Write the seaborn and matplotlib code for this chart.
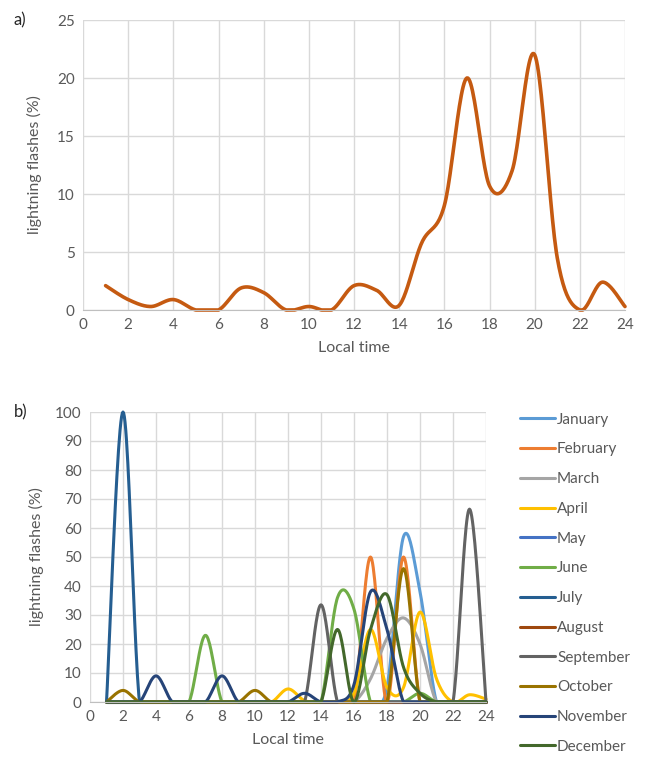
import numpy as np
import pandas as pd
import matplotlib
matplotlib.use("Agg")
import matplotlib.pyplot as plt
import seaborn as sns

# hours of the day (local time)
hours = list(range(1, 25))

# a) all months together (%)
total_flashes = [2.1, 0.9, 0.3, 0.9, 0, 0, 1.9, 1.5, 0, 0.3, 0, 2.1,
                 1.7, 0.4, 5.8, 9.0, 20.0, 10.7, 12.0, 22.0, 4.5, 0, 2.4, 0.3]

# b) monthly diurnal distribution (%), hours 1..24
months = ["January", "February", "March", "April", "May", "June", "July",
          "August", "September", "October", "November", "December"]
jan = [0, 0, 0, 0, 0, 0, 0, 0, 0, 0, 0, 0, 0, 0, 0, 0, 0, 5, 57, 38, 0, 0, 0, 0]
feb = [0, 0, 0, 0, 0, 0, 0, 0, 0, 0, 0, 0, 0, 0, 0, 0, 50, 0, 50, 0, 0, 0, 0, 0]
mar = [0, 0, 0, 0, 0, 0, 0, 0, 0, 0, 0, 0, 0, 0, 0, 0, 8, 22, 29, 20, 0, 0, 0, 0]
apr = [0, 0, 0, 0, 0, 0, 0, 0, 0, 0, 0, 4.5, 0.5, 0, 0, 3, 25, 5, 5, 31, 8, 0, 2.5, 1]
may = [0] * 24
jun = [0, 0, 0, 0, 0, 0, 23, 0, 0, 0, 0, 0, 0, 0, 36, 32, 0, 0, 0, 3, 0, 0, 0, 0]
jul = [0, 100, 0, 0, 0, 0, 0, 0, 0, 0, 0, 0, 0, 0, 0, 0, 0, 0, 0, 0, 0, 0, 0, 0]
aug = [0] * 24
sep = [0, 0, 0, 0, 0, 0, 0, 0, 0, 0, 0, 0, 0, 33.5, 0, 0, 0, 0, 0, 0, 0, 0, 66.5, 0]
oct_ = [0, 4, 0, 0, 0, 0, 0, 0, 0, 4, 0, 0, 0, 0, 0, 0, 0, 0, 46, 0, 0, 0, 0, 0]
nov = [0, 0, 0, 9, 0, 0, 0, 9, 0, 0, 0, 0, 3, 0, 0, 6, 38, 25, 0, 0, 0, 0, 0, 0]
dec = [0, 0, 0, 0, 0, 0, 0, 0, 0, 0, 0, 0, 0, 0, 25, 0, 25, 37, 12, 3, 0, 0, 0, 0]
monthly = [jan, feb, mar, apr, may, jun, jul, aug, sep, oct_, nov, dec]

month_colors = ["#5B9BD5", "#ED7D31", "#A5A5A5", "#FFC000", "#4472C4", "#70AD47",
                "#255E91", "#9E480E", "#636363", "#997300", "#264478", "#43682B"]


# Excel-style smoothed line: cubic Bezier through the points (rendering only)
def smooth(x, y, steps=24):
    x = np.asarray(x, float)
    y = np.asarray(y, float)
    n = len(x)
    xs, ys = [], []
    t = np.linspace(0, 1, steps, endpoint=False)
    for i in range(n - 1):
        i0 = max(i - 1, 0)
        i3 = min(i + 2, n - 1)
        for arr, out in ((x, xs), (y, ys)):
            p0, p1, p2, p3 = arr[i0], arr[i], arr[i + 1], arr[i3]
            c1 = p1 + (p2 - p0) / 6
            c2 = p2 - (p3 - p1) / 6
            out.append((1 - t) ** 3 * p1 + 3 * (1 - t) ** 2 * t * c1
                       + 3 * (1 - t) * t ** 2 * c2 + t ** 3 * p2)
    xs.append([x[-1]])
    ys.append([y[-1]])
    return np.concatenate(xs), np.maximum(np.concatenate(ys), 0)


sns.set_style("white")
plt.rcParams["font.family"] = ["Lato", "DejaVu Sans"]

grid_col = "#D9D9D9"
tick_col = "#595959"

fig = plt.figure(figsize=(6.47, 7.57), dpi=100)
ax_a = fig.add_axes([83 / 647, 1 - 310 / 757, 542 / 647, 290 / 757])
ax_b = fig.add_axes([90 / 647, 1 - 702 / 757, 396 / 647, 290 / 757])


def style_axis(ax, ymax, ystep):
    ax.set_xlim(0, 24)
    ax.set_ylim(0, ymax)
    ax.set_xticks(range(0, 25, 2))
    ax.set_yticks(range(0, ymax + 1, ystep))
    ax.grid(True, color=grid_col, linewidth=1.0)
    ax.set_axisbelow(True)
    for side in ["top", "right", "left"]:
        ax.spines[side].set_visible(False)
    ax.spines["bottom"].set_color("#BFBFBF")
    ax.tick_params(length=0, labelsize=11, colors=tick_col, pad=6)
    ax.set_xlabel("Local time", fontsize=11.5, color=tick_col, labelpad=6)
    ax.set_ylabel("lightning flashes (%)", fontsize=11.5, color=tick_col)


# panel a
sx, sy = smooth(hours, total_flashes)
sns.lineplot(x=sx, y=sy, ax=ax_a, color="#C55A11", linewidth=2.6,
             sort=False, estimator=None, clip_on=False)
style_axis(ax_a, 25, 5)
ax_a.yaxis.set_label_coords(-0.075, 0.5)

# panel b
frames = []
for name, vals in zip(months, monthly):
    mx, my = smooth(hours, vals)
    frames.append(pd.DataFrame({"hour": mx, "pct": my, "month": name}))
df = pd.concat(frames, ignore_index=True)

sns.lineplot(data=df, x="hour", y="pct", hue="month", hue_order=months,
             palette=dict(zip(months, month_colors)), linewidth=2.2,
             sort=False, estimator=None, ax=ax_b, clip_on=False)
style_axis(ax_b, 100, 10)
ax_b.yaxis.set_label_coords(-0.115, 0.5)

sns.move_legend(ax_b, "upper left", bbox_to_anchor=(1.05, 1.045), title=None,
                frameon=False, fontsize=11, labelspacing=1.03,
                handlelength=2.3, handletextpad=0.15, labelcolor=tick_col)

fig.text(14 / 647, 1 - 20 / 757, "a)", fontsize=12, va="center", ha="left")
fig.text(14 / 647, 1 - 412 / 757, "b)", fontsize=12, va="center", ha="left")

fig.savefig("out.png", dpi=100)
